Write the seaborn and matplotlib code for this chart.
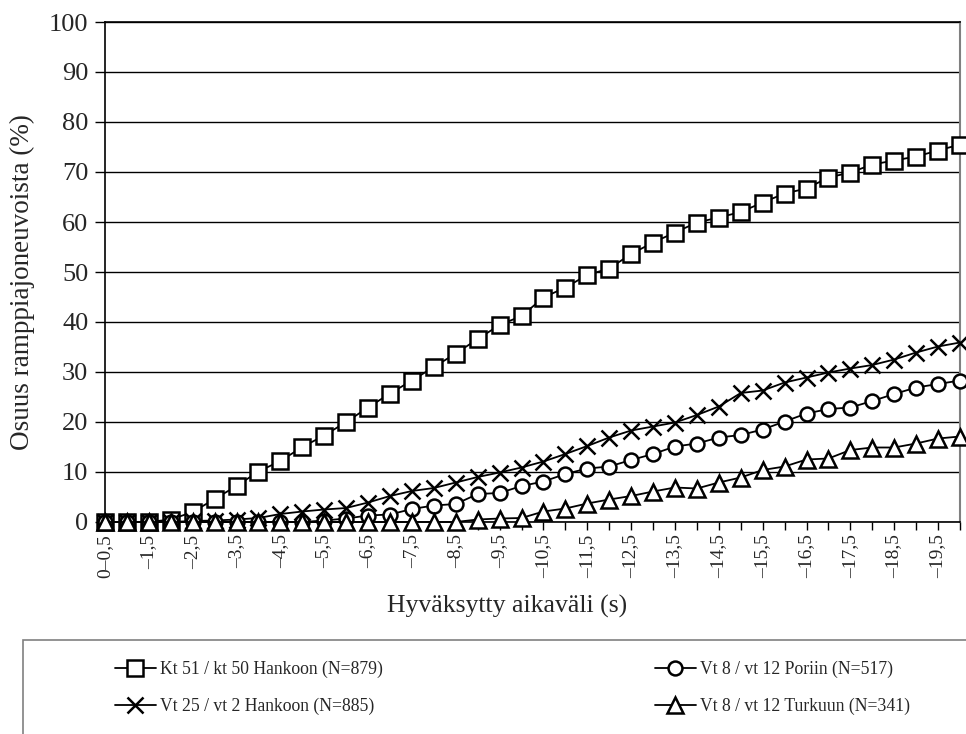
import numpy as np
import pandas as pd
import matplotlib
matplotlib.use("Agg")
import matplotlib.pyplot as plt
import seaborn as sns
from matplotlib.patches import Rectangle

categories = ["0–0,5", "–1", "–1,5", "–2", "–2,5", "–3", "–3,5", "–4", "–4,5", "–5",
              "–5,5", "–6", "–6,5", "–7", "–7,5", "–8", "–8,5", "–9", "–9,5", "–10",
              "–10,5", "–11", "–11,5", "–12", "–12,5", "–13", "–13,5", "–14", "–14,5", "–15",
              "–15,5", "–16", "–16,5", "–17", "–17,5", "–18", "–18,5", "–19", "–19,5", "–20"]

kt51 = [0, 0, 0, 0.5, 2.0, 4.6, 7.2, 10.1, 12.2, 15.0,
        17.3, 20.0, 22.9, 25.7, 28.3, 31.0, 33.7, 36.6, 39.4, 41.2,
        44.9, 46.9, 49.4, 50.7, 53.6, 55.9, 57.9, 59.9, 60.9, 62.0,
        63.9, 65.7, 66.7, 68.9, 69.9, 71.5, 72.3, 73.1, 74.3, 75.5]
vt25 = [0, 0, 0, 0, 0.2, 0.3, 0.5, 0.8, 1.6, 2.1,
        2.5, 2.8, 3.9, 5.2, 6.2, 6.8, 7.9, 9.0, 9.9, 10.9,
        12.1, 13.6, 15.2, 16.9, 18.3, 19.1, 19.9, 21.4, 23.1, 25.8,
        26.3, 27.9, 28.9, 29.9, 30.7, 31.4, 32.5, 33.9, 35.1, 35.9]
vt8p = [0, 0, 0, 0, 0, 0, 0, 0, 0, 0,
        0.3, 0.7, 1.3, 1.5, 2.6, 3.3, 3.6, 5.6, 5.8, 7.2,
        8.1, 9.6, 10.7, 11.1, 12.4, 13.6, 15.1, 15.7, 16.9, 17.4,
        18.5, 20.1, 21.7, 22.6, 22.9, 24.2, 25.6, 26.9, 27.6, 28.3]
vt8t = [0, 0, 0, 0, 0, 0, 0, 0, 0, 0,
        0, 0, 0, 0, 0, 0, 0, 0.5, 0.7, 0.8,
        2.1, 2.7, 3.7, 4.5, 5.2, 6.1, 6.9, 6.7, 7.9, 8.9,
        10.4, 11.1, 12.5, 12.7, 14.4, 14.9, 14.9, 15.7, 16.7, 17.1]

series_names = ["Kt 51 / kt 50 Hankoon (N=879)", "Vt 25 / vt 2 Hankoon (N=885)",
                "Vt 8 / vt 12 Poriin (N=517)", "Vt 8 / vt 12 Turkuun (N=341)"]
series_values = [kt51, vt25, vt8p, vt8t]
series_markers = ["s", "x", "o", "^"]
marker_sizes = [11, 11.5, 10, 11]

sns.set_theme(style="white")
plt.rcParams["font.family"] = ["Liberation Serif", "DejaVu Serif"]

W, H = 966, 734
fig = plt.figure(figsize=(W/100, H/100), dpi=100)
ax = fig.add_axes([105/W, (H-522)/H, 855/W, 500/H])

for name, vals, mk, ms in zip(series_names, series_values, series_markers, marker_sizes):
    df = pd.DataFrame({"x": np.arange(len(categories)), "y": vals})
    sns.lineplot(data=df, x="x", y="y", ax=ax, color="black", lw=1.3,
                 marker=mk, markersize=ms, markerfacecolor="white",
                 markeredgecolor="black", markeredgewidth=1.8,
                 label=name, clip_on=False, zorder=3)

ax.set_xlim(0, len(categories) - 1)
ax.set_ylim(0, 100)
ax.set_yticks(range(0, 101, 10))
ax.set_yticklabels([str(v) for v in range(0, 101, 10)], fontsize=19)
ax.set_xticks(range(len(categories)))
ax.set_xticklabels([c if i % 2 == 0 else "" for i, c in enumerate(categories)],
                   rotation=90, fontsize=14)
ax.grid(axis="y", color="black", lw=1.0)
ax.grid(axis="x", visible=False)
ax.tick_params(axis="y", direction="out", length=7, width=1, color="black",
               left=True, pad=5)
ax.tick_params(axis="x", direction="out", length=6, width=1, color="black",
               bottom=True, pad=3)
for s in ["left", "bottom", "top"]:
    ax.spines[s].set_color("black")
    ax.spines[s].set_linewidth(1.2)
ax.spines["right"].set_color("#808080")
ax.spines["right"].set_linewidth(1.5)

ax.set_xlabel("Hyväksytty aikaväli (s)", fontsize=18.5)
ax.xaxis.label.set(va="center", ha="center")
ax.xaxis.set_label_coords((507-105)/855, (522-606)/500)
ax.set_ylabel("Osuus ramppiajoneuvoista (%)", fontsize=19.5)
ax.yaxis.label.set(va="center", ha="center", rotation_mode="default")
ax.yaxis.set_label_coords((22-105)/855, (522-282)/500)

leg = ax.get_legend()
if leg:
    leg.remove()
handles, labels = ax.get_legend_handles_labels()
leg_kw = dict(frameon=False, fontsize=12.7, loc="center left",
              handlelength=2.3, handletextpad=0.25, labelspacing=1.1,
              borderaxespad=0, borderpad=0)
l1 = fig.legend(handles[:2], labels[:2], bbox_to_anchor=(115/W, (H-688)/H), **leg_kw)
l2 = fig.legend(handles[2:], labels[2:], bbox_to_anchor=(655/W, (H-688)/H), **leg_kw)
fig.patches.append(Rectangle((23/W, -0.02), 1.0, (H-640)/H + 0.02,
                             transform=fig.transFigure, fill=False,
                             edgecolor="#808080", lw=1.2))

fig.savefig("out.png", dpi=100)
